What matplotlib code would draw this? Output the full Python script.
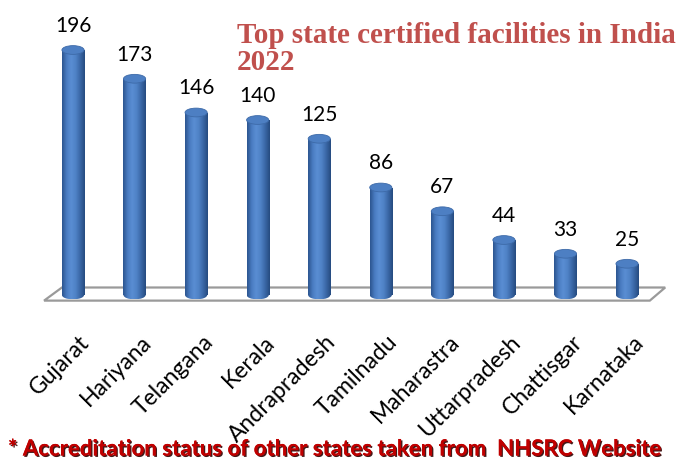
import numpy as np
import matplotlib.pyplot as plt
from matplotlib.patches import Ellipse, Polygon
from matplotlib.transforms import ScaledTranslation
import matplotlib.patheffects as pe

# data
states = ["Gujarat", "Hariyana", "Telangana", "Kerala", "Andrapradesh",
          "Tamilnadu", "Maharastra", "Uttarpradesh", "Chattisgar", "Karnataka"]
facilities = [196, 173, 146, 140, 125, 86, 67, 44, 33, 25]

fig = plt.figure(figsize=(6.81, 4.62), dpi=100)
W, H = 681, 462
# axes placed so that x-index 0 sits at ~73px and value 0 at ~295px
px_per_x = 61.56
px_per_y = 1.25
xlim = (-0.5, 9.7)
ylim = (-8, 230)
left_px = 73 + xlim[0] * px_per_x
right_px = 73 + xlim[1] * px_per_x
bot_px = 295 - ylim[0] * px_per_y
top_px = 295 - ylim[1] * px_per_y
ax = fig.add_axes([left_px / W, 1 - bot_px / H,
                   (right_px - left_px) / W, (bot_px - top_px) / H])
ax.set_xlim(*xlim)
ax.set_ylim(*ylim)

# floor
floor = Polygon([(-0.47, -4.5), (-0.18, 6), (9.62, 6), (9.37, -4.5)], closed=True,
                facecolor="white", edgecolor="#9a9a9a", lw=1.6, zorder=1)
ax.add_patch(floor)

bw = 0.36
eh = 7.0  # ellipse height in data units
grad = np.linspace(0, 1, 64)
cmap_body = plt.matplotlib.colors.LinearSegmentedColormap.from_list(
    "cyl", ["#2c558f", "#4a7cc2", "#5a8ed3", "#4f82c6", "#3a67a6", "#264b80"])

x = np.arange(len(states))
bars = ax.bar(x, facilities, width=bw, bottom=0, color="none", zorder=2)
for xi, v, b in zip(x, facilities, bars):
    x0 = xi - bw / 2
    img = np.tile(grad, (2, 1))
    # body
    im = ax.imshow(img, cmap=cmap_body, extent=(x0, x0 + bw, 0, v),
                   aspect="auto", zorder=2, interpolation="bicubic")
    im.set_clip_path(b)
    # bottom half-ellipse
    eb = Ellipse((xi, 0), bw, eh, facecolor="none", edgecolor="none", zorder=2)
    ax.add_patch(eb)
    im2 = ax.imshow(img, cmap=cmap_body, extent=(x0, x0 + bw, -eh / 2, 0),
                    aspect="auto", zorder=2, interpolation="bicubic")
    im2.set_clip_path(eb)
    # top cap
    ax.add_patch(Ellipse((xi, v), bw, eh, facecolor="#4d7fc3",
                         edgecolor="#3d6aa8", lw=0.6, zorder=3))
    ax.annotate(str(v), (xi, v + eh / 2), xytext=(0, 7), textcoords="offset points",
                ha="center", va="bottom", fontsize=15, family="Lato", color="black")

ax.set_xticks(x)
ax.set_xticklabels(states, rotation=45, ha="right", va="top",
                   rotation_mode="anchor", fontsize=16.5, family="Lato")
ax.tick_params(axis="x", length=0, pad=19)
shift = ScaledTranslation(6 / 100, 0, fig.dpi_scale_trans)
for lab in ax.get_xticklabels():
    lab.set_transform(lab.get_transform() + shift)
ax.set_yticks([])
for s in ax.spines.values():
    s.set_visible(False)
ax.patch.set_alpha(0)

fig.text(237 / W, 1 - 22 / H, "Top state certified facilities in India\n2022",
         ha="left", va="top", fontsize=21, fontweight="bold",
         family="Liberation Serif", color="#c0504d", linespacing=1.0)

fig.text(8 / W, 1 - 449 / H,
         "* Accreditation status of other states taken from  NHSRC Website",
         ha="left", va="center", fontsize=16, fontweight="bold", family="Lato",
         color="#c00000",
         path_effects=[pe.withSimplePatchShadow(offset=(1, -1), shadow_rgbFace="#300000",
                                                alpha=0.9), pe.Normal()])

fig.savefig("out.png", dpi=100)
